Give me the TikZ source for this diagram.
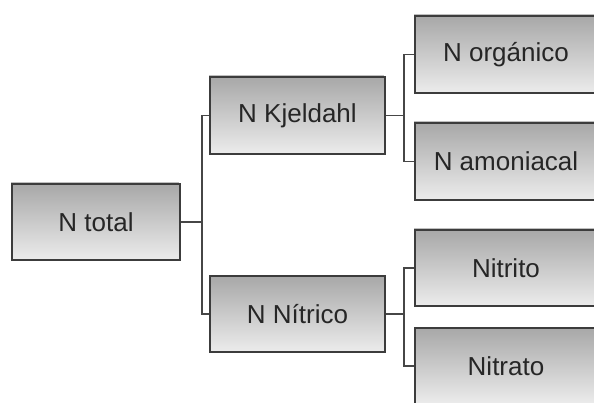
\documentclass[tikz,border=0pt]{standalone}
\usepackage{fontspec}
\setmainfont{Liberation Sans}
\usetikzlibrary{shadows}
\definecolor{boxtop}{RGB}{168,168,168}
\definecolor{boxbot}{RGB}{236,236,236}
\definecolor{edge}{RGB}{60,60,60}
\definecolor{wire}{RGB}{70,70,70}
\tikzset{
  box/.style={draw=edge, line width=1.4pt, top color=boxtop, bottom color=boxbot,
    minimum height=76pt, inner sep=0pt, font=\fontsize{26}{30}\selectfont,
    text=black!85,
    general shadow={shadow xshift=-1.5pt, shadow yshift=1.5pt, fill=black!25}},
  wirestyle/.style={draw=wire, line width=1.2pt}
}
\begin{document}
\begin{tikzpicture}[x=1pt,y=1pt]
\useasboundingbox (0,0) rectangle (594,402);
\clip (0,0) rectangle (594,402);
% boxes of the tree, y measured upward from the bottom edge
\node[box, minimum width=168pt] (total) at (96,180) {N total};
\node[box, minimum width=175pt, minimum height=77pt] (kj) at (297.5,286.5) {N Kjeldahl};
\node[box, minimum width=175pt] (ni) at (297.5,88) {N Nítrico};
\node[box, minimum width=182pt, minimum height=77pt] (org) at (506,347.5) {N orgánico};
\node[box, minimum width=182pt, minimum height=77pt] (amo) at (506,240.5) {N amoniacal};
\node[box, minimum width=182pt] (nto) at (506,134) {Nitrito};
\node[box, minimum width=182pt] (nta) at (506,36) {Nitrato};
% branch points
\coordinate (j1) at (202,180);
\coordinate (j2) at (404,286.5);
\coordinate (j3) at (404,88);
% elbow connectors
\draw[wirestyle] (total.east) -- (j1);
\draw[wirestyle] (kj.west) -| (j1) |- (ni.west);
\draw[wirestyle] (kj.east) -- (j2);
\draw[wirestyle] (org.west) -| (j2) |- (amo.west);
\draw[wirestyle] (ni.east) -- (j3);
\draw[wirestyle] (nto.west) -| (j3) |- (nta.west);
\end{tikzpicture}
\end{document}
